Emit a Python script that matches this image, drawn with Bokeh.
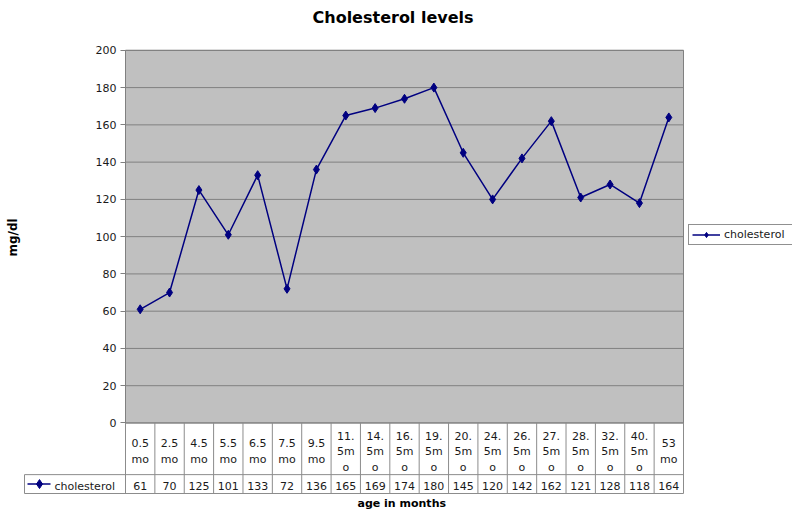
from bokeh.plotting import figure
from bokeh.models import Range1d, FixedTicker, Legend, LegendItem, Title, ColumnDataSource
from bokeh.embed import file_html
from bokeh.resources import INLINE
from bokeh.core.properties import value

# ---------------- data ----------------
title_text = "Cholesterol levels"
series_name = "cholesterol"
x_label = "age in months"
y_label = "mg/dl"
categories = ["0.5 mo", "2.5 mo", "4.5 mo", "5.5 mo", "6.5 mo", "7.5 mo", "9.5 mo",
              "11.5mo", "14.5mo", "16.5mo", "19.5mo", "20.5mo", "24.5mo", "26.5mo",
              "27.5mo", "28.5mo", "32.5mo", "40.5mo", "53 mo"]
header_labels = ["0.5\nmo", "2.5\nmo", "4.5\nmo", "5.5\nmo", "6.5\nmo", "7.5\nmo", "9.5\nmo",
                 "11.\n5m\no", "14.\n5m\no", "16.\n5m\no", "19.\n5m\no", "20.\n5m\no",
                 "24.\n5m\no", "26.\n5m\no", "27.\n5m\no", "28.\n5m\no", "32.\n5m\no",
                 "40.\n5m\no", "53\nmo"]
cholesterol = [61, 70, 125, 101, 133, 72, 136, 165, 169, 174, 180, 145, 120, 142, 162, 121, 128, 118, 164]
y_ticks = [0, 20, 40, 60, 80, 100, 120, 140, 160, 180, 200]

# ---------------- style / layout ----------------
FONT = "DejaVu Sans"
NAVY = "#000080"
GRID = "#808080"
PLOT_BG = "#C0C0C0"
TABLE_LINE = "#8c8c8c"
TXT = "#1a1a1a"

n = len(categories)
xs = list(range(n))

W, H = 792, 509
FRAME_L, FRAME_T, BOTTOM = 23, 26, 12   # frame left/top edge, bottom border (px)
PLOT_L, PLOT_T = 125, 50             # top-left corner of the grey plot area (px)
PLOT_W, PLOT_H = 558, 375            # plot-area size (px)
HEAD_H, VAL_H = 52, 19               # data-table row heights (px)
KEY_L, KEY_LINE = 24, (27, 50)       # legend cell of the table (px)
KEY_MARK, KEY_TEXT = 39, 54
FRAME_H = H - FRAME_T - BOTTOM
FRAME_W = W - FRAME_L

ppu = PLOT_W / n                                # px per category
ppy = PLOT_H / (y_ticks[-1] - y_ticks[0])       # px per mg/dl
x_lo, x_hi = -0.5, n - 0.5
y_top = y_ticks[-1] + (PLOT_T - FRAME_T) / ppy
y_bottom = y_top - FRAME_H / ppy


def x_at_px(px):
    """data x of a pixel column"""
    return x_lo + (px - PLOT_L) / ppu


x_start = x_at_px(FRAME_L)
src = ColumnDataSource(dict(x=xs, y=cholesterol, head=header_labels,
                            val=[str(v) for v in cholesterol]))

p = figure(width=W, height=H,
           x_range=Range1d(x_start, x_start + FRAME_W / ppu),
           y_range=Range1d(y_bottom, y_top),
           x_axis_location=None, output_backend="svg", toolbar_location=None,
           min_border_left=FRAME_L, min_border_right=0, min_border_top=FRAME_T,
           min_border_bottom=BOTTOM)
p.outline_line_color = None
p.background_fill_color = "white"
p.border_fill_color = "white"
p.grid.visible = False

# chart title
p.title.text = title_text
p.title.align = "left"
p.title.offset = 312 - FRAME_L
p.title.standoff = 0
p.title.text_font = FONT
p.title.text_font_size = "16px"
p.title.text_font_style = "bold"
p.title.text_color = "black"

# y axis drawn at the left edge of the plot area
ax = p.yaxis[0]
ax.fixed_location = x_lo
ax.ticker = FixedTicker(ticks=y_ticks)
ax.bounds = (y_ticks[0], y_ticks[-1])
ax.major_tick_in = 0
ax.major_tick_out = 5
ax.minor_tick_line_color = None
ax.axis_line_color = GRID
ax.major_tick_line_color = GRID
ax.major_label_text_font = FONT
ax.major_label_text_font_size = "11px"
ax.major_label_text_color = TXT
ax.major_label_standoff = 4

# "mg/dl" title, centred on the 0..200 scale
p.add_layout(Title(text=y_label, align="left", offset=238,
                   vertical_align="bottom", standoff=7, text_font=FONT,
                   text_font_size="12px", text_font_style="bold", text_color="black"),
             "left")

# plot area
p.quad(left=[x_lo], right=[x_hi], bottom=[y_ticks[0]], top=[y_ticks[-1]],
       fill_color=PLOT_BG, line_color=GRID, line_width=1)
p.segment(x0=[x_lo] * len(y_ticks), y0=y_ticks, x1=[x_hi] * len(y_ticks), y1=y_ticks,
          line_color=GRID, line_width=1)

r_line = p.line("x", "y", source=src, line_color=NAVY, line_width=1.5)
r_mark = p.scatter("x", "y", source=src, marker="diamond", size=9,
                   fill_color=NAVY, line_color=NAVY)

# ---------------- data table ----------------
y_head_bot = y_ticks[0] - HEAD_H / ppy
y_val_bot = y_head_bot - VAL_H / ppy
y_val_mid = (y_head_bot + y_val_bot) / 2
x_key = x_at_px(KEY_L)

bx = [k - 0.5 for k in range(n + 1)]
p.segment(x0=bx, y0=[y_ticks[0]] * len(bx), x1=bx, y1=[y_val_bot] * len(bx),
          line_color=TABLE_LINE, line_width=1)
p.segment(x0=[x_key, x_key, x_key], y0=[y_head_bot, y_val_bot, y_val_bot],
          x1=[x_hi, x_hi, x_key], y1=[y_head_bot, y_val_bot, y_head_bot],
          line_color=TABLE_LINE, line_width=1)

p.text("x", (y_ticks[0] + y_head_bot) / 2, text="head", source=src, text_align="center",
       text_baseline="middle", text_font=value(FONT), text_font_size="11px",
       text_line_height=1.2, text_color=TXT, y_offset=3)
p.text("x", y_val_mid, text="val", source=src, text_align="center",
       text_baseline="middle", text_font=value(FONT), text_font_size="11px",
       text_color=TXT, y_offset=2)

# legend key of the table row
p.segment(x0=[x_at_px(KEY_LINE[0])], y0=[y_val_mid], x1=[x_at_px(KEY_LINE[1])], y1=[y_val_mid],
          line_color=NAVY, line_width=1.5)
p.scatter(x=[x_at_px(KEY_MARK)], y=[y_val_mid], marker="diamond", size=9,
          fill_color=NAVY, line_color=NAVY)
p.text(x=[x_at_px(KEY_TEXT)], y=[y_val_mid], text=[series_name], text_align="left",
       text_baseline="middle", text_font=value(FONT), text_font_size="11px",
       text_color=TXT, y_offset=2)

# series legend on the right
legend = Legend(items=[LegendItem(label=series_name, renderers=[r_line, r_mark])],
                location=(688 - FRAME_L, 249), margin=0, padding=3, spacing=0,
                glyph_width=28, glyph_height=13, label_height=13, label_width=66,
                label_standoff=4, label_text_font=FONT, label_text_font_size="11px",
                label_text_color=TXT, label_text_baseline="middle",
                border_line_color="#222222", border_line_width=1,
                background_fill_color="white", background_fill_alpha=1)
p.add_layout(legend)

p.add_layout(Title(text=x_label, align="left", offset=357 - FRAME_L, standoff=0,
                   vertical_align="bottom", text_font=FONT, text_font_size="11px",
                   text_font_style="bold", text_color="black"), "below")

open("out.html", "w").write(file_html(p, INLINE))
